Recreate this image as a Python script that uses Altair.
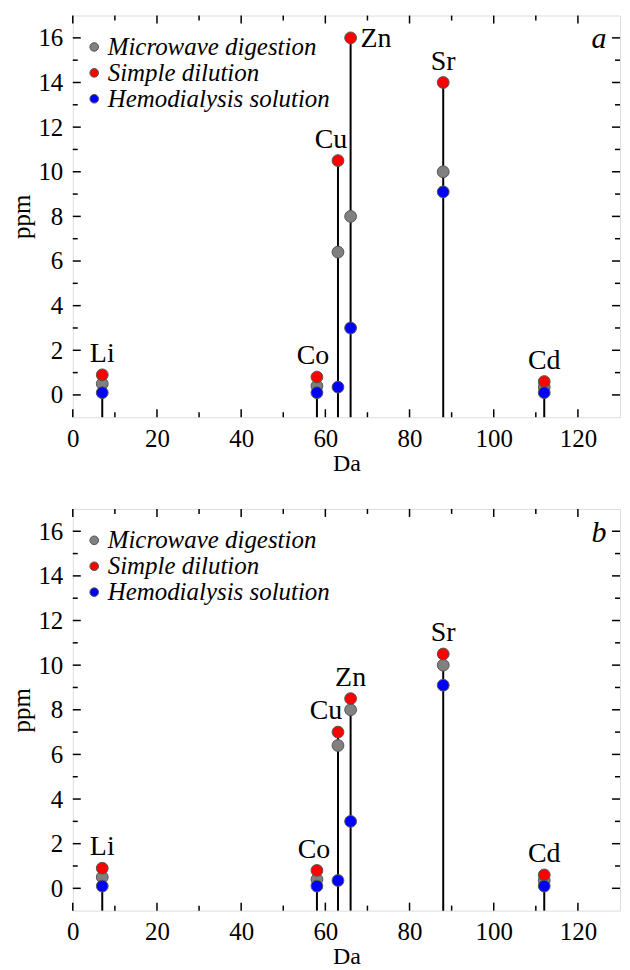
import altair as alt
import pandas as pd

elements = ["Li", "Co", "Cu", "Zn", "Sr", "Cd"]
mass = [7, 58, 63, 66, 88, 112]
series = ["Microwave digestion", "Simple dilution", "Hemodialysis solution"]
colors = ["#808080", "#ff0000", "#0000ff"]

a_microwave = [0.5, 0.4, 6.4, 8.0, 10.0, 0.35]
a_simple = [0.9, 0.8, 10.5, 16.0, 14.0, 0.6]
a_hemo = [0.1, 0.1, 0.35, 3.0, 9.1, 0.1]

b_microwave = [0.5, 0.4, 6.4, 8.0, 10.0, 0.35]
b_simple = [0.9, 0.8, 7.0, 8.5, 10.5, 0.6]
b_hemo = [0.1, 0.1, 0.35, 3.0, 9.1, 0.1]

x_major = [0, 20, 40, 60, 80, 100, 120]
x_minor = [10, 30, 50, 70, 90, 110]
y_major = [0, 2, 4, 6, 8, 10, 12, 14, 16]
y_minor = [1, 3, 5, 7, 9, 11, 13, 15]

W, H = 549, 403
FONT = "Liberation Serif"

xs = alt.Scale(domain=[0, 130], nice=False, zero=False)
ys = alt.Scale(domain=[-1, 17], nice=False, zero=False)
xax = alt.Axis(values=x_major, ticks=False, domain=False, grid=False, labelPadding=9,
               labelFontSize=25, titleFontSize=24, titleFontWeight="normal", titlePadding=0,
               title="Da", labelFont=FONT, titleFont=FONT, labelColor="black", titleColor="black",
               labelFlush=False)
yax = alt.Axis(values=y_major, ticks=False, domain=False, grid=False, labelPadding=10,
               labelFontSize=25, titleFontSize=25, titleFontWeight="normal", titlePadding=3,
               title="ppm", labelFont=FONT, titleFont=FONT, labelColor="black", titleColor="black",
               labelFlush=False)


def X(f):
    return alt.X(f, type="quantitative", scale=xs, axis=xax)


def Y(f):
    return alt.Y(f, type="quantitative", scale=ys, axis=yax)


def panel(microwave, simple, hemo, letter, label_groups):
    rows = []
    for s, vals in zip(series, [microwave, simple, hemo]):
        for e, m, v in zip(elements, mass, vals):
            rows.append({"element": e, "mass": m, "series": s, "ppm": v})
    pts = pd.DataFrame(rows)
    stems = pd.DataFrame({"element": elements, "mass": mass,
                          "top": [max(t) for t in zip(microwave, simple, hemo)]})
    labels = pd.DataFrame({"element": elements, "mass": mass, "ppm": simple})

    layers = []
    # ticks (inside the frame)
    for vals, ln in ((x_major, 8), (x_minor, 5)):
        d = pd.DataFrame({"v": vals})
        layers.append(alt.Chart(d).mark_rule(color="black", strokeWidth=1.5).encode(
            x=X("v"), y=alt.value(H), y2=alt.value(H - ln)))
        layers.append(alt.Chart(d).mark_rule(color="black", strokeWidth=1.5).encode(
            x=X("v"), y=alt.value(0), y2=alt.value(ln)))
    for vals, ln in ((y_major, 8), (y_minor, 5)):
        d = pd.DataFrame({"v": vals})
        layers.append(alt.Chart(d).mark_rule(color="black", strokeWidth=1.5).encode(
            y=Y("v"), x=alt.value(0), x2=alt.value(ln)))
        layers.append(alt.Chart(d).mark_rule(color="black", strokeWidth=1.5).encode(
            y=Y("v"), x=alt.value(W), x2=alt.value(W - ln)))

    stem = alt.Chart(stems).mark_rule(color="black", strokeWidth=2).encode(
        x=X("mass"), y=Y("top"), y2=alt.datum(-1))
    layers.append(stem)

    points = alt.Chart(pts).mark_circle(size=140, opacity=1, stroke="#555555", strokeWidth=1).encode(
        x=X("mass"), y=Y("ppm"),
        color=alt.Color("series:N", scale=alt.Scale(domain=series, range=colors),
                        legend=alt.Legend(orient="none", legendX=9, legendY=19, title=None,
                                          labelFont=FONT, labelFontSize=25, labelFontStyle="italic",
                                          labelColor="black", symbolType="circle", symbolSize=75,
                                          symbolStrokeColor="#555555", symbolStrokeWidth=1,
                                          symbolOpacity=1, labelOffset=1, rowPadding=0, padding=0,
                                          labelLimit=400)))
    layers.append(points)

    for names, dx, dy, align, baseline in label_groups:
        sub = labels[labels["element"].isin(names)]
        layers.append(alt.Chart(sub).mark_text(font=FONT, fontSize=28, dx=dx, dy=dy, baseline=baseline,
                                               align=align, color="black").encode(
            x=X("mass"), y=Y("ppm"), text="element:N"))

    lt = pd.DataFrame({"t": [letter]})
    layers.append(alt.Chart(lt).mark_text(font=FONT, fontSize=30, fontStyle="italic", align="center",
                                          baseline="middle", color="black").encode(
        x=alt.value(W - 21), y=alt.value(24), text="t:N"))

    return alt.layer(*layers).properties(width=W, height=H)


top = panel(a_microwave, a_simple, a_hemo, "a", [
    (["Li", "Sr", "Cd"], 0, -13, "center", "alphabetic"),
    (["Co"], -4, -13, "center", "alphabetic"),
    (["Cu"], -7, -13, "center", "alphabetic"),
    (["Zn"], 10, 1, "left", "middle"),
])
bottom = panel(b_microwave, b_simple, b_hemo, "b", [
    (["Li", "Sr", "Cd", "Zn"], 0, -13, "center", "alphabetic"),
    (["Co"], -3, -13, "center", "alphabetic"),
    (["Cu"], -12, -13, "center", "alphabetic"),
])

chart = alt.vconcat(top, bottom, spacing=31).resolve_scale(color="independent").properties(
    padding={"left": 1, "top": 4, "right": 0, "bottom": 0}
).configure_view(stroke="black", strokeWidth=2).configure(background="white")

chart.save("out.html", embed_options={"renderer": "svg", "actions": False})
